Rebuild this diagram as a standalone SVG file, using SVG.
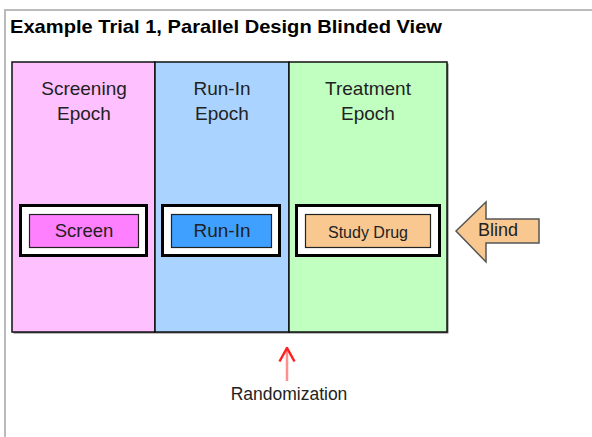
<svg xmlns="http://www.w3.org/2000/svg" width="592" height="437" viewBox="0 0 592 437">
<defs>
<style>
.t{font-family:"Liberation Sans",Arial,sans-serif;font-size:19px;fill:#222;text-anchor:middle}
.outer{fill:#fff;stroke:#000;stroke-width:3}
.inner{stroke:#222;stroke-width:1.2}
</style>
<marker id="ah" viewBox="0 0 16 18" refX="15" refY="9" markerWidth="16" markerHeight="18" markerUnits="userSpaceOnUse" orient="auto">
<path d="M1.5,1.5 L15,9 L1.5,16.5" fill="none" stroke="#ff2020" stroke-width="2.5" stroke-linejoin="miter"/>
</marker>
</defs>
<rect x="0" y="0" width="592" height="437" fill="#fff"/>
<rect x="5" y="10" width="600" height="440" fill="none" stroke="#bbb" stroke-width="2"/>
<text x="10" y="33" textLength="432" lengthAdjust="spacingAndGlyphs" style="font-family:'Liberation Sans',Arial,sans-serif;font-size:19px;font-weight:bold;fill:#000">Example Trial 1, Parallel Design Blinded View</text>

<g id="epochs">
<rect x="13.5" y="63.5" width="435" height="270" fill="#777"/>
<g id="screening-epoch">
<rect x="12" y="62" width="143" height="270" fill="#ffc0ff" stroke="#111" stroke-width="1.5"/>
<text class="t" x="84" y="95">Screening</text>
<text class="t" x="84" y="120">Epoch</text>
</g>
<g id="runin-epoch">
<rect x="155" y="62" width="134" height="270" fill="#aad4ff" stroke="#111" stroke-width="1.5"/>
<text class="t" x="222" y="95">Run-In</text>
<text class="t" x="222" y="120">Epoch</text>
</g>
<g id="treatment-epoch">
<rect x="289" y="62" width="158" height="270" fill="#c0ffc0" stroke="#111" stroke-width="1.5"/>
<text class="t" x="368" y="95">Treatment</text>
<text class="t" x="368" y="120">Epoch</text>
</g>
</g>

<g id="screen">
<rect class="outer" x="20.5" y="205.5" width="126" height="50"/>
<rect class="inner" x="29.5" y="214.5" width="109" height="33" fill="#ff80ff"/>
<text class="t" x="84" y="237" style="font-size:18.5px">Screen</text>
</g>
<g id="run-in">
<rect class="outer" x="162.5" y="205.5" width="117" height="50"/>
<rect class="inner" x="171.5" y="214.5" width="100" height="33" fill="#3fa0ff"/>
<text class="t" x="222" y="237" style="font-size:19px">Run-In</text>
</g>
<g id="study-drug">
<rect class="outer" x="296.5" y="205.5" width="143" height="50"/>
<rect class="inner" x="305.5" y="214.5" width="125" height="33" fill="#f8c890"/>
<text class="t" x="368" y="238" style="font-size:16px">Study Drug</text>
</g>
<g id="blind">
<path d="M456,231 L486,202 L486,219 L539,219 L539,243 L486,243 L486,262 Z" fill="#f8c890" stroke="#555" stroke-width="1.5"/>
<text class="t" x="498" y="236" style="font-size:18px">Blind</text>
</g>

<g id="connectors">
<line x1="287" y1="381" x2="287" y2="348" stroke="#ff9090" stroke-width="2.5" marker-end="url(#ah)"/>
</g>
<g id="randomization">
<text class="t" x="289" y="400" style="font-size:17.5px">Randomization</text>
</g>
</svg>
